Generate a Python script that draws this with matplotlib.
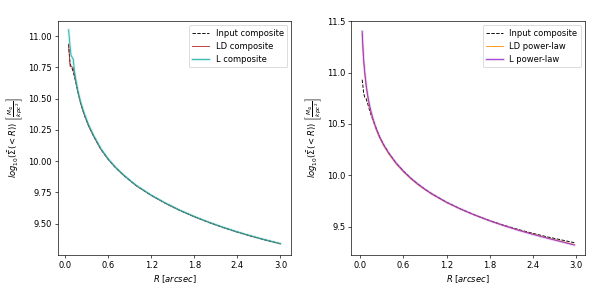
import matplotlib
matplotlib.use("Agg")
import matplotlib.pyplot as plt

# Left panel: composite fits
r_left = [0.05, 0.06, 0.07, 0.085, 0.1, 0.115, 0.13, 0.15, 0.18, 0.22, 0.27, 0.33, 0.4,
          0.5, 0.6, 0.7, 0.8, 0.9, 1.0, 1.2, 1.4, 1.6, 1.8, 2.0, 2.2, 2.4, 2.6, 2.8, 3.0]
input_left = [10.935, 10.86, 10.79, 10.755, 10.74, 10.715, 10.68, 10.632, 10.552, 10.458, 10.368, 10.28, 10.197,
              10.094, 10.015, 9.950, 9.895, 9.846, 9.800, 9.726, 9.662, 9.605, 9.555, 9.510, 9.469, 9.432, 9.398, 9.367, 9.338]
ld_comp = [10.935, 10.85, 10.76, 10.755, 10.752, 10.748, 10.70, 10.64, 10.552, 10.458, 10.368, 10.28, 10.197,
           10.094, 10.015, 9.950, 9.895, 9.846, 9.800, 9.726, 9.662, 9.605, 9.555, 9.510, 9.469, 9.432, 9.398, 9.367, 9.338]
l_comp = [11.05, 10.99, 10.92, 10.845, 10.83, 10.815, 10.73, 10.655, 10.565, 10.47, 10.38, 10.29, 10.205,
          10.10, 10.02, 9.953, 9.898, 9.849, 9.803, 9.728, 9.664, 9.607, 9.557, 9.512, 9.471, 9.434, 9.400, 9.369, 9.340]

# Right panel: power-law fits
r_right = [0.025, 0.035, 0.045, 0.06, 0.08, 0.1, 0.125, 0.15, 0.18, 0.22, 0.27, 0.33, 0.4,
           0.5, 0.6, 0.7, 0.8, 0.9, 1.0, 1.2, 1.4, 1.6, 1.8, 2.0, 2.2, 2.4, 2.6, 2.8, 2.98]
input_right = [10.93, 10.87, 10.80, 10.76, 10.745, 10.70, 10.64, 10.585, 10.53, 10.457, 10.37, 10.29, 10.212,
               10.117, 10.04, 9.973, 9.915, 9.864, 9.818, 9.738, 9.671, 9.612, 9.560, 9.514, 9.473, 9.436, 9.402, 9.372, 9.345]
ld_pl = [11.38, 11.23, 11.11, 10.99, 10.865, 10.77, 10.675, 10.60, 10.527, 10.443, 10.36, 10.28, 10.203,
         10.109, 10.033, 9.967, 9.91, 9.86, 9.814, 9.735, 9.669, 9.611, 9.558, 9.511, 9.468, 9.429, 9.392, 9.358, 9.326]
l_pl = [11.40, 11.25, 11.13, 11.01, 10.88, 10.785, 10.69, 10.615, 10.54, 10.455, 10.37, 10.29, 10.212,
        10.117, 10.04, 9.973, 9.915, 9.864, 9.818, 9.738, 9.671, 9.612, 9.558, 9.510, 9.466, 9.426, 9.389, 9.354, 9.322]

xticks = [0.0, 0.6, 1.2, 1.8, 2.4, 3.0]
ylabel = r'$log_{10}(\bar{\Sigma}( < R))\ \left[\frac{M_{\odot}}{kpc^2}\right]$'

fig, (ax1, ax2) = plt.subplots(1, 2, figsize=(598 / 60, 297 / 60), dpi=60)
fig.subplots_adjust(left=0.097, right=0.978, top=0.929, bottom=0.142, wspace=0.257)

# left
h_in, = ax1.plot(r_left, input_left, '--', color='black', lw=1.1)
h_ld, = ax1.plot(r_left, ld_comp, color='firebrick', lw=1.0)
band, = ax1.plot(r_left, l_comp, color='lightseagreen', lw=3, alpha=0.25)
h_l, = ax1.plot(r_left, l_comp, color='lightseagreen', lw=1.0)
ax1.legend([h_in, h_ld, (band, h_l)], ['Input composite', 'LD composite', 'L composite'], loc='upper right')
ax1.set_xlim(-0.097, 3.153)
ax1.set_ylim(9.25, 11.12)
ax1.set_yticks([9.5, 9.75, 10.0, 10.25, 10.5, 10.75, 11.0])
ax1.set_yticklabels(['9.50', '9.75', '10.00', '10.25', '10.50', '10.75', '11.00'])

# right
h_in2, = ax2.plot(r_right, input_right, '--', color='black', lw=1.1)
h_ld2, = ax2.plot(r_right, ld_pl, color='darkorange', lw=1.0)
band2, = ax2.plot(r_right, l_pl, color='darkorchid', lw=3, alpha=0.25)
h_l2, = ax2.plot(r_right, l_pl, color='darkorchid', lw=1.0)
ax2.legend([h_in2, h_ld2, (band2, h_l2)], ['Input composite', 'LD power-law', 'L power-law'], loc='upper right')
ax2.set_xlim(-0.125, 3.125)
ax2.set_ylim(9.227, 11.5)
ax2.set_yticks([9.5, 10.0, 10.5, 11.0, 11.5])

for ax in (ax1, ax2):
    ax.set_xticks(xticks)
    ax.set_xlabel(r'$R\ [arcsec]$')
    ax.set_ylabel(ylabel)

plt.savefig('out.png', dpi=60)
